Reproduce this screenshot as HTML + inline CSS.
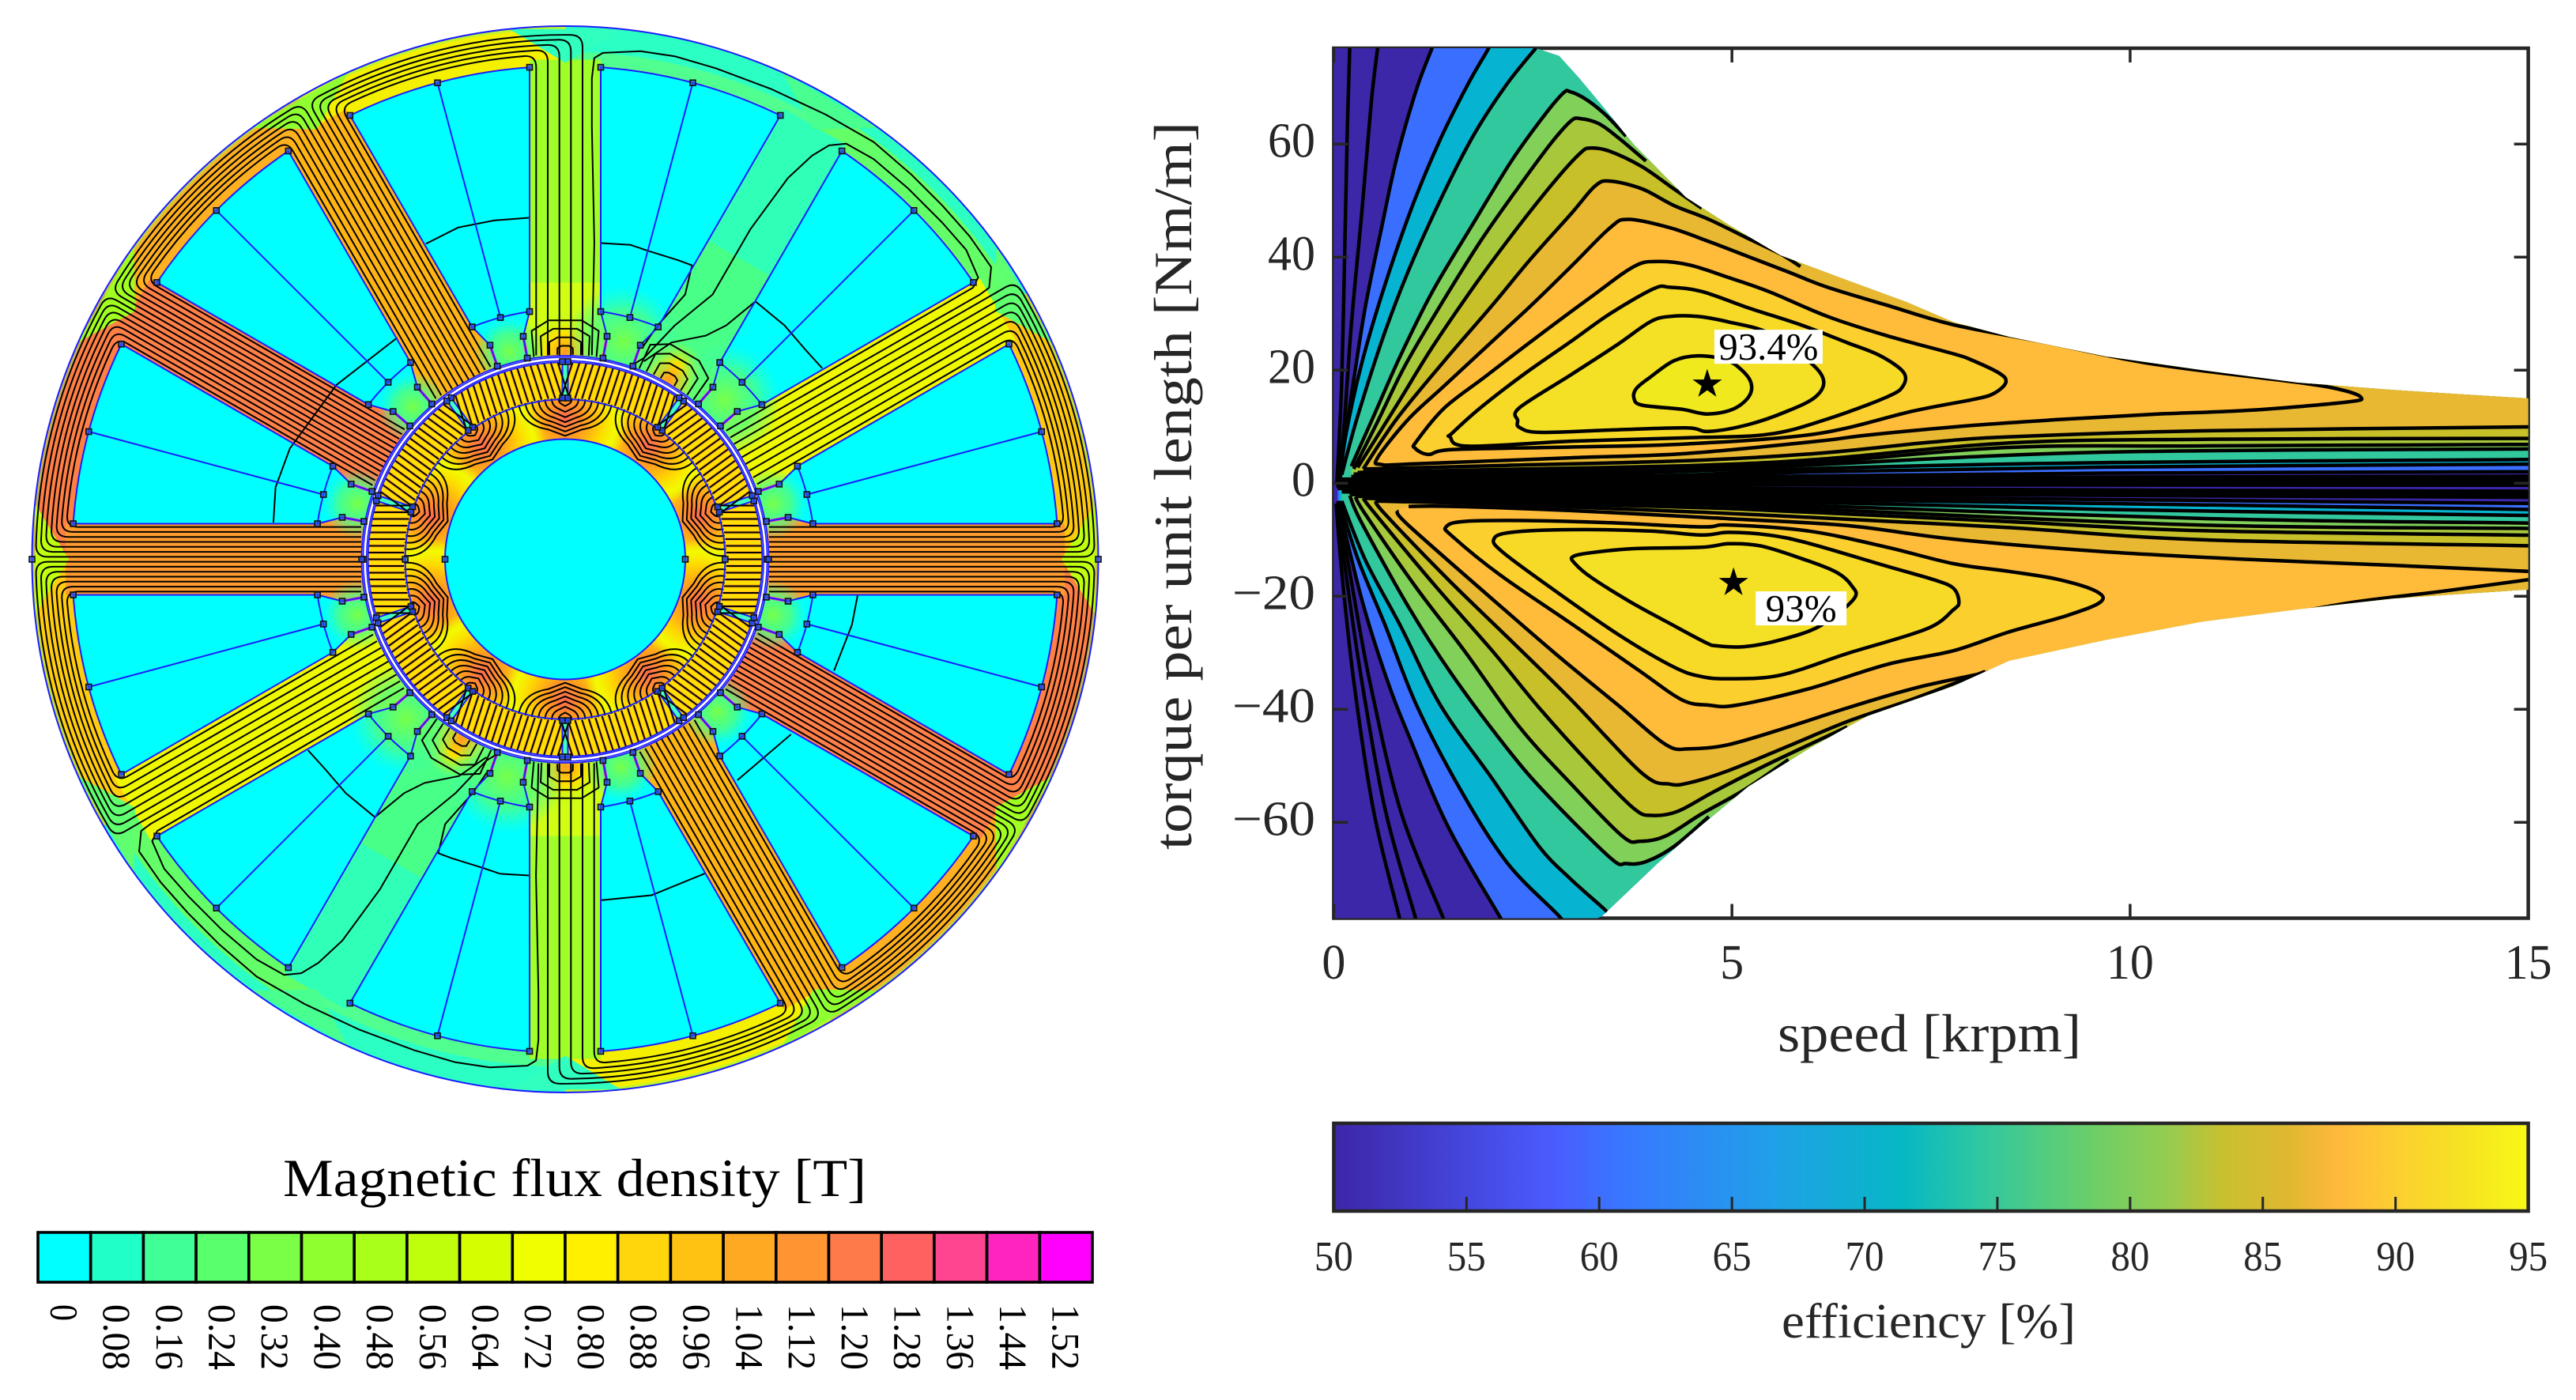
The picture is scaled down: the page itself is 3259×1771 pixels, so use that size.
<!DOCTYPE html>
<html lang="en">
<head>
<meta charset="utf-8">
<title>Magnetic flux density and efficiency map</title>
<style>
html,body{margin:0;padding:0;background:#fff;}
svg{display:block;font-family:"Liberation Serif",serif;}
</style>
</head>
<body>
<svg id="fig" xmlns="http://www.w3.org/2000/svg" width="3259" height="1771" viewBox="0 0 3259 1771">
<defs>
  <clipPath id="envClip"><path id="envPath"/></clipPath>
  <clipPath id="plotClip"><rect x="1687.4" y="61" width="1511.2" height="1100.5"/></clipPath>
  <clipPath id="ironClip"><circle cx="715" cy="707.5" r="203"/></clipPath>
  <radialGradient id="rotorBlob">
    <stop offset="0" stop-color="#ff6a50"/><stop offset=".3" stop-color="#ff9a20"/>
    <stop offset=".6" stop-color="#ffd800"/><stop offset=".82" stop-color="#f0ff00" stop-opacity=".9"/><stop offset="1" stop-color="#e8ff00" stop-opacity="0"/>
  </radialGradient>
  <radialGradient id="slotHalo">
    <stop offset="0" stop-color="#78ff48"/><stop offset=".55" stop-color="#50ff80" stop-opacity=".8"/>
    <stop offset="1" stop-color="#30ffc0" stop-opacity="0"/>
  </radialGradient>
  <radialGradient id="toothTip">
    <stop offset="0" stop-color="#ff9a20"/><stop offset=".45" stop-color="#ffe000"/>
    <stop offset="1" stop-color="#b0ff20" stop-opacity="0"/>
  </radialGradient>
  <linearGradient id="effGradient" x1="0" x2="1" y1="0" y2="0">
    <stop offset="0" stop-color="#3d26a8"/><stop offset=".184" stop-color="#4a5cff"/>
    <stop offset=".244" stop-color="#3878ff"/><stop offset=".367" stop-color="#20a0e8"/>
    <stop offset=".476" stop-color="#06b8c4"/><stop offset=".542" stop-color="#30c8a0"/>
    <stop offset=".636" stop-color="#6ccf68"/><stop offset=".698" stop-color="#96cc50"/>
    <stop offset=".744" stop-color="#c8c030"/><stop offset=".8" stop-color="#e0b830"/>
    <stop offset=".84" stop-color="#ffb83c"/><stop offset=".889" stop-color="#fccf30"/>
    <stop offset=".94" stop-color="#f6e024"/><stop offset="1" stop-color="#f8f815"/>
  </linearGradient>
</defs>

<g id="fluxPlot">
  <g id="stator"></g>
  <g id="rotor"></g>
  <g id="fluxLines" fill="none" stroke="#000" stroke-width="2" stroke-linejoin="round"></g>
  <g id="extraLines" fill="none" stroke="#000" stroke-width="2.2" transform="translate(715 707.5) scale(.9058 .8929) translate(-789.5 -792)">
    <polyline points="382,740 385,690 405,635 470,545 555,478"/>
    <polyline points="595,345 640,322 690,312 740,308"/>
    <polyline points="1198,843 1190,885 1165,950"/>
    <polyline points="1105,1040 1030,1105"/>
    <polyline points="985,1237 910,1268 840,1275"/>
  </g>
  <g id="blueGeom" fill="none" stroke="#1c1cff" stroke-width="2"></g>
  <g id="nodes" fill="#2a50e8" fill-opacity=".75" stroke="#111" stroke-width="1.6"></g>
</g>

<text x="358" y="1513" font-size="68" fill="#000" textLength="738" lengthAdjust="spacingAndGlyphs">Magnetic flux density [T]</text>
<g id="fluxLegend"></g>

<g id="effPlot">
  <g id="effFrame"></g>
  <g id="effFills" clip-path="url(#plotClip)"></g>
  <g id="effLines" clip-path="url(#envClip)" fill="none" stroke="#000" stroke-width="4.5" stroke-linejoin="round"></g>
  <g id="effAxes"></g>
  <g id="effMarks"></g>
</g>
<text transform="translate(1507 1075) rotate(-90)" font-size="68" fill="#262626" textLength="921" lengthAdjust="spacingAndGlyphs">torque per unit length [Nm/m]</text>
<text x="2249" y="1330" font-size="68" fill="#262626" textLength="384" lengthAdjust="spacingAndGlyphs">speed [krpm]</text>

<g id="effBar"></g>
<text x="2254" y="1692" font-size="62" fill="#262626" textLength="372" lengthAdjust="spacingAndGlyphs">efficiency [%]</text>
</svg>

<script>
/* ---------- efficiency chart data: [speed krpm, torque Nm/m] ---------- */
const xTicks = [0, 5, 10, 15];
const yTicks = [-60, -40, -20, 0, 20, 40, 60];
const barTicks = [50, 55, 60, 65, 70, 75, 80, 85, 90, 95];
const peakSpeed = [4.69, 5.02];
const peakTorque = [17.5, -17.6];
const peakText = ['93.4%', '93%'];

const levelNames = [20, 30, 40, 50, 60, 70, 75, 80, 82, 84, 86, 88, 90, 91, 92, 93];
const levelColors = ['#3c27a8','#3c27a8','#3c27a8','#3c27a8','#3a6eff','#06b4d2','#32c89e','#80d05a','#a8c83c','#c8c028','#e8b832','#ffbc3a','#fbcf2e','#f6da26','#f4e024','#efe91e'];

const envelopeTop = [[2.53,77],[2.83,75.6],[3.08,71.7],[3.37,66.8],[3.77,59.9],[4.42,50.6],[4.96,45.7],[5.61,40.3],[6.45,35.9],[7.2,32],[7.78,28.5],[8.48,25.9],[9.7,22.4],[10.9,20],[12.1,17.8],[13.3,16.5],[15,15]];
const envelopeBottom = [[15,-18.8],[13.3,-20.4],[12.1,-22.3],[10.9,-24.5],[9.7,-27.7],[8.48,-31.4],[7.78,-35.9],[6.7,-41.2],[5.96,-47],[5.2,-53.7],[4.62,-60.5],[4.07,-67.2],[3.37,-76.6],[3.3,-77]];

const top93Loop = [[4.57,22.54],[4.27,21.66],[3.97,18.72],[3.8,16.76],[3.77,15.04],[3.87,13.81],[4.37,13.08],[4.69,12.24],[5.01,13.08],[5.21,15.28],[5.24,17.74],[5.11,20.19],[4.91,21.9]];
const top92Loop = [[2.31,11.1],[2.33,13.32],[2.98,19.2],[3.57,24.6],[3.97,28.53],[4.22,29.51],[4.57,29.51],[4.96,28.53],[5.46,26.57],[5.96,21.66],[6.15,18.23],[6.05,15.28],[5.71,12.83],[5.21,10.38],[4.71,9.15],[4.42,9.79],[3.47,9.4],[2.58,9],[2.33,9.9]];
const top91Loop = [[1.46,8.17],[1.49,8.9],[1.84,13.32],[2.38,19.2],[2.98,25.1],[3.47,30],[4.02,34.42],[4.22,34.66],[4.62,33.93],[5.21,31],[5.86,28.04],[6.45,24.85],[6.85,22.64],[7.15,19.7],[7.15,17.25],[6.95,15.28],[6.2,11.36],[5.46,8.66],[4.42,8.02],[2.98,7.43],[1.69,6.55]];
const top90Loop = [[1.02,6.2],[1.04,7.43],[1.39,13.32],[1.89,18.72],[2.48,25.1],[3.23,32.95],[3.77,38.34],[4.07,39.23],[4.47,38.59],[4.96,36.38],[5.46,33.93],[6.2,29.5],[6.95,26.08],[7.78,22.9],[8,21.85],[8.36,19.44],[8.44,17.84],[8.3,15.96],[8.06,14.9],[7.27,12.75],[6.06,8.74],[4.42,6.94],[2.98,6.4],[1.5,5.96],[1.19,5.08]];
const top88Loop = [[.55,4.5],[.94,11.36],[1.39,17.25],[1.99,25.1],[2.48,31.47],[2.98,38.34],[3.47,45.2],[3.7,46.68],[4.22,45.2],[4.71,42.76],[5.21,40.06],[5.71,37.36],[6.2,34.66],[6.95,31.47],[7.78,28.04],[8.97,24.8],[10.3,21.05],[12.1,17.84],[12.66,16.5],[12.9,15.16],[12.72,14.36],[11.51,12.91],[10.3,12.2],[9.09,11.25],[7.88,10.07],[6.67,8.47],[6.06,7.4],[4.42,5.25],[2.98,4.5],[.99,3.4],[.6,3.3]];

const top86Rise = [[.37,2.53],[.79,11.36],[1.39,21.66],[1.99,31.47],[2.48,39.8],[2.98,47.66],[3.28,52.57],[3.47,53.45],[3.87,52.08],[4.27,49.14],[4.71,46.68],[5.21,43.25],[5.61,40.55],[5.86,38.34]];
const top86Fall = [[15,9.97],[10.9,9.27],[8.48,8.2],[7.45,7.2],[6.06,5.26],[4.4,3.96],[1.97,3.09],[.37,2.5]];
const top84Rise = [[.3,2.77],[.79,13.8],[1.24,24.1],[1.79,35.4],[2.28,44.7],[2.78,53.55],[3.1,58.46],[3.23,59.29],[3.47,58.7],[3.87,56],[4.27,52.08],[4.62,48.65]];
const top84Fall = [[15,7.93],[10.9,7.77],[8.48,7.13],[6.06,4.2],[4.4,3.09],[1.97,2.4],[.3,1.9]];
const top82Rise = [[.25,2.53],[.55,10.87],[.89,20.68],[1.34,31.47],[1.84,42.76],[2.33,52.57],[2.73,60.17],[2.98,64.1],[3.1,64.5],[3.33,63.6],[3.57,61.16],[3.92,56.99]];
const top82Fall = [[15,6.86],[10.9,6.6],[8.48,6.33],[6.06,3.65],[4.4,2.5],[1.97,1.9],[.25,1.6]];
const top80Rise = [[.22,3],[.5,11.85],[.84,22.64],[1.24,33.93],[1.74,45.7],[2.23,56.99],[2.63,64.83],[2.88,69],[2.97,69.25],[3.18,67.8],[3.42,65.08],[3.67,61.4]];
const top80Fall = [[15,6.06],[9.7,5.5],[6.06,3.27],[4.4,2.1],[1.97,1.5],[.22,1.2]];
const top75Rise = [[.1,1.5],[.3,11.85],[.65,27.06],[.99,39.32],[1.44,53.06],[1.79,62.38],[2.18,70.72],[2.53,76.85],[2.6,78]];
const top75Fall = [[15,4.19],[9.7,3.65],[6.06,2.6],[4.4,1.45],[1.97,1.1],[.1,.7]];
const top70Rise = [[.08,.7],[.15,8.4],[.35,21.17],[.65,35.4],[.99,49.14],[1.34,60.9],[1.69,70.72],[1.94,76.85],[1.98,78.5]];
const top70Fall = [[15,3.38],[9.7,2.85],[6.06,2.04],[4.4,1],[1.97,.85],[.08,.4]];
const top60Rise = [[.06,.4],[.12,5.96],[.25,18.2],[.4,31.47],[.6,45.2],[.79,57.5],[1.04,69.74],[1.23,76.85],[1.27,78.5]];
const top60Fall = [[15,2.04],[9.7,1.78],[6.06,1.3],[4.4,.7],[1.97,.55],[.06,.2]];
const top50Rise = [[.05,.2],[.12,8.4],[.22,28],[.35,47.66],[.47,67.3],[.55,76.85],[.57,78.5]];
const top50Fall = [[15,1.24],[6.06,.9],[1.97,.4],[.05,.1]];
const top40Rise = [[.04,.1],[.1,18.2],[.14,42.76],[.17,62.4],[.2,76.85],[.2,78.5]];
const top40Fall = [[15,.7],[6.06,.5],[1.97,.25],[.04,.05]];
const top30Fall = [[15,.17],[6.06,.05],[1.97,.1],[.08,0]];
const mid20Fall = [[15,-.36],[6.06,-.3],[1.97,-.2],[.08,-.1]];

const bot92Loop = [[3,-13.02],[3.03,-14.23],[3.23,-16.64],[3.72,-20.97],[4.22,-24.82],[4.67,-28.19],[4.81,-28.77],[5.16,-28.92],[5.61,-27.71],[6.1,-25.3],[6.53,-20.49],[6.5,-18.08],[6.3,-15.67],[5.86,-13.26],[5.36,-11.1],[4.96,-10.71],[4.62,-11.34],[3.77,-11.58],[3.23,-12.3]];
const bot91Loop = [[2.01,-9.89],[2.13,-12.3],[2.78,-19.04],[3.57,-26.75],[4.27,-32.53],[4.62,-34.21],[4.96,-34.6],[5.61,-33.97],[6.45,-30.12],[7.44,-25.8],[7.78,-22.4],[7.85,-21],[7.78,-18.56],[7.54,-17.1],[6.95,-14.71],[5.96,-10.62],[5.46,-9.17],[4.96,-8.69],[4.62,-9.17],[3.97,-8.45],[2.98,-8.21],[2.23,-8.69]];
const bot90Loop = [[1.41,-7.73],[1.49,-9.41],[2.08,-16.15],[2.98,-24.82],[3.82,-33.01],[4.37,-38.31],[4.71,-39.27],[5.06,-39.27],[5.96,-36.38],[6.95,-32.05],[7.78,-29.64],[8.48,-26.3],[9.21,-23.4],[9.63,-21],[9.57,-19.1],[9.09,-17],[8.48,-15.6],[7.78,-14.23],[6.95,-11.34],[5.96,-8.45],[4.96,-7.39],[4.62,-7.73],[3.47,-7],[2.48,-6.62],[1.64,-6.76]];
const bot88Rise = [[.79,-4.84],[.94,-7.48],[1.99,-20.49],[2.78,-30.12],[3.57,-39.27],[4.17,-46.25],[4.47,-46.98],[4.96,-46.25],[5.71,-43.12],[6.45,-39.75],[7.2,-36.62],[7.78,-34.7],[9.09,-30.9],[10.3,-27.4],[11.51,-24.45],[12.72,-21.24],[13.93,-19.1],[15,-17.07]];
const bot88Fall = [[15,-15.6],[13.33,-14.55],[11.51,-13.5],[9.7,-12.14],[7.78,-9.9],[6.45,-7.5],[4.96,-6.28],[4.62,-6.04],[2.98,-4.84],[1.49,-4.1],[.94,-4.1]];
const bot86Rise = [[.52,-3.15],[.65,-5.56],[1.44,-17.1],[2.18,-27.23],[2.98,-38.3],[3.87,-51.3],[4.22,-53.24],[4.47,-52.99],[4.96,-50.83],[5.71,-46.5],[6.45,-42.16],[7.2,-38.55],[7.74,-35.7],[8.18,-33.3]];
const bot86Fall = [[15,-11.07],[10.9,-10],[8.48,-7.86],[6.06,-6.1],[4.56,-5.1],[1.97,-3.7],[.52,-3.15]];
const bot84Rise = [[.37,-2.67],[.5,-5.08],[1.24,-17.6],[1.99,-29.64],[2.58,-39.75],[3.23,-49.9],[3.77,-57.57],[4,-58.77],[4.32,-58.05],[4.76,-54.68],[5.36,-50.35],[5.86,-46.98],[6.45,-43.1]];
const bot84Fall = [[15,-9.2],[10.9,-8.4],[8.48,-6.8],[6.06,-5.2],[4.56,-4.3],[1.97,-3.3],[.37,-2.67]];
const bot82Rise = [[.27,-2.43],[.4,-5.56],[1.04,-18.56],[1.64,-29.64],[2.33,-43.1],[2.98,-53.2],[3.62,-62.4],[3.85,-63.35],[4.17,-62.4],[4.62,-58.5],[5.16,-54.2],[5.71,-48.9]];
const bot82Fall = [[15,-8],[10.9,-7.4],[6.06,-4.6],[4.56,-3.7],[1.97,-3],[.27,-2.3]];
const bot80Rise = [[.2,-2.19],[.35,-7],[.94,-21.93],[1.49,-33.97],[2.18,-46.98],[2.68,-55.16],[3.47,-66.24],[3.67,-67.3],[3.92,-66.96],[4.27,-64.3],[4.71,-59]];
const bot80Fall = [[15,-7.05],[10.9,-6.25],[6.06,-4],[4.56,-3.3],[1.97,-2.7],[.2,-2]];
const bot75Rise = [[.1,-3.15],[.4,-13.7],[.84,-25.3],[1.34,-39.3],[1.99,-52.3],[2.58,-64.3],[2.98,-70.1],[3.4,-75.4],[3.5,-77]];
const bot75Fall = [[15,-5.7],[9.7,-4.65],[6.06,-3.4],[4.56,-3],[1.97,-2.4],[.1,-1.5]];
const bot70Rise = [[.07,-3.15],[.3,-13.3],[.65,-25.3],[1.04,-39.3],[1.59,-54.2],[2.18,-67.2],[2.83,-76.6],[2.9,-78.5]];
const bot70Fall = [[15,-4.65],[9.7,-3.6],[6.06,-2.9],[4.56,-2.6],[1.97,-2.1],[.07,-.9]];
const bot60Rise = [[.05,-3.15],[.35,-20.5],[.65,-34],[.94,-44.6],[1.44,-60.9],[2.08,-76.6],[2.15,-78.5]];
const bot60Fall = [[15,-3.58],[9.7,-2.9],[6.06,-2.4],[1.97,-1.8],[.05,-.9]];
const bot50Rise = [[.05,-3.6],[.2,-15.7],[.45,-34.9],[.84,-58],[1.365,-76.6],[1.42,-78.5]];
const bot50Fall = [[15,-2.5],[6.06,-1.9],[1.97,-1.4],[.05,-.8]];
const bot40Rise = [[.04,-3.6],[.15,-15.7],[.35,-34.9],[.65,-58],[1.02,-76.6],[1.05,-78.5]];
const bot40Fall = [[15,-1.97],[6.06,-1.4],[1.97,-1],[.04,-.6]];
const bot30Rise = [[.03,-3.6],[.1,-15.7],[.25,-34.9],[.5,-58],[.82,-76.6],[.84,-78.5]];
const bot30Fall = [[15,-1.43],[6.06,-1],[1.97,-.6],[.03,-.4]];

/* ---------- flux legend data ---------- */
const fluxTickLabels = ['0','0.08','0.16','0.24','0.32','0.40','0.48','0.56','0.64','0.72','0.80','0.88','0.96','1.04','1.12','1.20','1.28','1.36','1.44','1.52'];
const fluxColors = ['#00ffff','#20ffc8','#40ff96','#5aff6e','#7aff46','#90ff30','#a9ff1a','#c0ff0c','#d5ff00','#f0ff00','#fff000','#ffd60c','#ffc212','#ffa822','#ff9432','#ff7a4a','#ff6060','#ff4490','#ff24c0','#ff00ff'];

const NS = 'http://www.w3.org/2000/svg';
function mk(tag, attrs, parent){
  const e = document.createElementNS(NS, tag);
  for (const k in attrs) e.setAttribute(k, attrs[k]);
  parent.appendChild(e);
  return e;
}
const $ = id => document.getElementById(id);

/* ---------- axis functions ---------- */
const PLOT_L = 1687.4, PLOT_R = 3198.6, PLOT_T = 61, PLOT_B = 1161.5;
const xS = s => PLOT_L + 100.75 * s;
const yT = t => 611.25 - 7.15 * t;
const BAR_L = 1687.4, BAR_R = 3198.6;
const xE = v => BAR_L + (v - 50) / 45 * (BAR_R - BAR_L);
const toPx = p => [xS(p[0]), yT(p[1])];
const f1 = n => n.toFixed(1);

function segs(pts, closed){
  const n = pts.length; let d = '';
  const last = closed ? n : n - 1;
  for (let i = 0; i < last; i++){
    const g = j => closed ? pts[(j + n) % n] : pts[Math.max(0, Math.min(n - 1, j))];
    const p0 = g(i-1), p1 = g(i), p2 = g(i+1), p3 = g(i+2);
    d += ` C${f1(p1[0]+(p2[0]-p0[0])/6)} ${f1(p1[1]+(p2[1]-p0[1])/6)} ${f1(p2[0]-(p3[0]-p1[0])/6)} ${f1(p2[1]-(p3[1]-p1[1])/6)} ${f1(p2[0])} ${f1(p2[1])}`;
  }
  return d;
}
const openPath = a => { const p = a.map(toPx); return `M${f1(p[0][0])} ${f1(p[0][1])}` + segs(p,false); };
const loopPath = a => { const p = a.map(toPx); return `M${f1(p[0][0])} ${f1(p[0][1])}` + segs(p,true) + 'Z'; };

/* ---------- efficiency chart ---------- */
(function(){
  const base = [[0,77]].concat(envelopeTop, envelopeBottom, [[0,-77]]);
  const envD = 'M' + base.map(p => { const q = toPx(p); return f1(q[0]) + ' ' + f1(q[1]); }).join(' L') + 'Z';
  $('envPath').setAttribute('d', envD);
  const frame = mk('rect', {x:PLOT_L,y:PLOT_T,width:PLOT_R-PLOT_L,height:PLOT_B-PLOT_T,fill:'none',stroke:'#262626','stroke-width':4.5}, $('effFrame'));
  
  
  const fills = mk('g', {'clip-path':'url(#envClip)'}, $('effFills'));
  const basePath = mk('path', {d: envD, fill: levelColors[0]}, fills);
  
  

  const table = [
    [60,top60Rise,top60Fall,1],[60,bot60Rise,bot60Fall,-1],
    [70,top70Rise,top70Fall,1],[70,bot70Rise,bot70Fall,-1],
    [75,top75Rise,top75Fall,1],[75,bot75Rise,bot75Fall,-1],
    [80,top80Rise,top80Fall,1],[80,bot80Rise,bot80Fall,-1],
    [82,top82Rise,top82Fall,1],[82,bot82Rise,bot82Fall,-1],
    [84,top84Rise,top84Fall,1],[84,bot84Rise,bot84Fall,-1],
    [86,top86Rise,top86Fall,1],[86,bot86Rise,bot86Fall,-1],
    [88,top88Loop,null,1],[88,bot88Rise,bot88Fall,-1],
    [90,top90Loop,null,1],[90,bot90Loop,null,-1],
    [91,top91Loop,null,1],[91,bot91Loop,null,-1],
    [92,top92Loop,null,1],[92,bot92Loop,null,-1],
    [93,top93Loop,null,1]
  ];
  const colorOf = l => levelColors[levelNames.indexOf(l)];
  table.forEach(row => {
    const [lvl, rise, fall, sign] = row;
    let d;
    if (!fall) d = loopPath(rise);
    else {
      const r = rise.map(toPx), q = fall.map(toPx);
      const e1 = toPx([16, sign*90]), e2 = toPx([16, fall[0][1]]);
      d = `M${f1(r[0][0])} ${f1(r[0][1])}` + segs(r,false) +
          ` L${f1(e1[0])} ${f1(e1[1])} L${f1(e2[0])} ${f1(e2[1])} L${f1(q[0][0])} ${f1(q[0][1])}` + segs(q,false) + 'Z';
    }
    const f = mk('path', {d: d, fill: colorOf(lvl)}, fills);
    
    
  });
  const lineSets = [top40Rise,top40Fall,top30Fall,mid20Fall,top50Rise,top50Fall,bot50Rise,bot50Fall,bot40Rise,bot40Fall,bot30Rise,bot30Fall];
  table.forEach(r => { lineSets.push(r[1]); if (r[2]) lineSets.push(r[2]); });
  const loops = [top93Loop,top92Loop,top91Loop,top90Loop,top88Loop,bot92Loop,bot91Loop,bot90Loop];
  lineSets.forEach(a => {
    const l = mk('path', {d: loops.includes(a) ? loopPath(a) : openPath(a)}, $('effLines'));
    
    
  });

  /* axes */
  const ax = $('effAxes');
  xTicks.forEach(v => {
    const x = xS(v);
    const t1 = mk('line', {x1:x,x2:x,y1:PLOT_B,y2:PLOT_B-18,stroke:'#262626','stroke-width':3.5}, ax);
    
    
    const t2 = mk('line', {x1:x,x2:x,y1:PLOT_T,y2:PLOT_T+18,stroke:'#262626','stroke-width':3.5}, ax);
    
    
    const s = String(v);
    const lab = mk('text', {x:x,y:1238,'font-size':62,fill:'#262626','text-anchor':'middle',textLength:s.length*30,lengthAdjust:'spacingAndGlyphs'}, ax);
    lab.textContent = s;
    
    
  });
  yTicks.forEach(v => {
    const y = yT(v);
    const t1 = mk('line', {x1:PLOT_L,x2:PLOT_L+18,y1:y,y2:y,stroke:'#262626','stroke-width':3.5}, ax);
    
    
    const t2 = mk('line', {x1:PLOT_R,x2:PLOT_R-18,y1:y,y2:y,stroke:'#262626','stroke-width':3.5}, ax);
    
    
    const s = (v < 0 ? '\u2212' : '') + Math.abs(v);
    const w = String(Math.abs(v)).length * 30 + (v < 0 ? 45 : 0);
    const lab = mk('text', {x:1664,y:y+16,'font-size':62,fill:'#262626','text-anchor':'end',textLength:w,lengthAdjust:'spacingAndGlyphs'}, ax);
    lab.textContent = s;
    
    
  });

  /* peaks */
  peakSpeed.forEach((s, i) => {
    const cx = xS(s), cy = yT(peakTorque[i]);
    let pts = '';
    for (let k = 0; k < 10; k++){
      const r = k % 2 ? 7.5 : 19.5, a = -Math.PI/2 + k*Math.PI/5;
      pts += f1(cx + r*Math.cos(a)) + ',' + f1(cy + r*Math.sin(a)) + ' ';
    }
    const star = mk('polygon', {points: pts, fill:'#000'}, $('effMarks'));
    
    
    const b = i === 0 ? {dx:9,dy:-69,w:137,h:43,tw:126} : {dx:28,dy:11,w:115,h:43,tw:90};
    const box = mk('rect', {x:cx+b.dx,y:cy+b.dy,width:b.w,height:b.h,fill:'#fff'}, $('effMarks'));
    
    
    const txt = mk('text', {x:cx+b.dx+b.w/2,y:cy+b.dy+38,'font-size':49,fill:'#000','text-anchor':'middle',textLength:b.tw,lengthAdjust:'spacingAndGlyphs'}, $('effMarks'));
    txt.textContent = peakText[i];
    
    
  });

  /* colorbar */
  const bar = $('effBar');
  const r = mk('rect', {x:BAR_L,y:1421,width:BAR_R-BAR_L,height:111,fill:'url(#effGradient)',stroke:'#262626','stroke-width':4.5}, bar);
  
  
  barTicks.forEach(v => {
    const x = xE(v);
    const t = mk('line', {x1:x,x2:x,y1:1514,y2:1532,stroke:'#262626','stroke-width':3}, bar);
    
    
    const lab = mk('text', {x:x,y:1607,'font-size':53,fill:'#262626','text-anchor':'middle',textLength:49,lengthAdjust:'spacingAndGlyphs'}, bar);
    lab.textContent = String(v);
    
    
  });
})();

/* ---------- flux legend ---------- */
(function(){
  const g = $('fluxLegend');
  const L = 48, W = (1382 - 48) / 20;
  fluxColors.forEach((c, i) => {
    const r = mk('rect', {x:L+i*W,y:1559,width:W,height:63,fill:c,stroke:'#000','stroke-width':3.6}, g);
    
    
    const s = fluxTickLabels[i];
    const t = mk('text', {transform:`translate(${f1(L+(i+.5)*W-17)} 1650) rotate(90)`,'font-size':50,fill:'#000',textLength:s.length>1?83:21,lengthAdjust:'spacingAndGlyphs'}, g);
    t.textContent = s;
    
    
  });
})();

/* ---------- flux density field illustration ---------- */
(function(){
  const CX = 715, CY = 707.5, R = 674.5, D = Math.PI/180;
  const pol = (r,a) => [CX + r*Math.cos(a*D), CY - r*Math.sin(a*D)];
  const sp = (a,r,d) => [CX + r*Math.cos(a*D) - d*Math.sin(a*D), CY - r*Math.sin(a*D) - d*Math.cos(a*D)];
  const P = p => f1(p[0]) + ' ' + f1(p[1]);
  const ringColors = ['#ffc810','#64ff68','#2cffc4','#f4f000','#ffb020','#ff7f45','#ffcc10','#64ff68','#2cffc4','#f4f000','#ffb020','#ff7f45'];
  const spokeColors = ['#ff9c30','#f0f800','#30ffb8','#a0ff28','#ffb414','#ff7f48','#ff9c30','#f0f800','#30ffb8','#a0ff28','#ffb414','#ff7f48'];
  const wedgeColors = ['#c0ff10','#60ff70','#48ff90','#30ffc0','#90ff30','#a0ff20','#c0ff10','#60ff70','#48ff90','#30ffc0','#90ff30','#a0ff20'];
  const ringLines = [7,0,0,5,6,7,7,0,0,5,6,7];
  const extraSpoke = [0,2,0,1,0,0,0,2,0,1,0,0];
  const st = $('stator'), ro = $('rotor'), fl = $('fluxLines'), bl = $('blueGeom'), nd = $('nodes');

  const disk = mk('circle', {cx:CX,cy:CY,r:R,fill:'#60ff70'}, st);
  
  
  const sector = (r1,r2,a1,a2) => `M${P(pol(r2,a1))} A${r2} ${r2} 0 0 0 ${P(pol(r2,a2))} L${P(pol(r1,a2))} A${r1} ${r1} 0 0 1 ${P(pol(r1,a1))}Z`;
  for (let i = 0; i < 12; i++){
    const a = i*30;
    const s = mk('path', {d:sector(610,R,a,a+30),fill:ringColors[i]}, st);
    
    
  }
  const fringe = mk('circle', {cx:CX,cy:CY,r:R-2,fill:'none',stroke:'#70ff70','stroke-width':4,'stroke-opacity':.4}, st);
  
  
  [1,2,7,8].forEach(i => {
    const a = i*30;
    const s = mk('path', {d:sector(R-15,R,a,a+30),fill:'#2cffc4'}, st);
    
    
  });
  [2,8].forEach(i => {
    const a = i*30;
    const s = mk('path', {d:sector(620,642,a,a+30),fill:'#50ff90'}, st);
    
    
  });
  for (let i = 0; i < 12; i++){
    const a = i*30;
    const body = [sp(a,258,-45),sp(a,632,-45),sp(a,632,45),sp(a,258,45)];
    const spk = mk('polygon', {points:body.map(p=>p.map(f1).join(',')).join(' '),fill:spokeColors[i]}, st);
    
    
    const shoe = [pol(259,a-10.65),pol(287,a-10.65),sp(a,313,-45),sp(a,313,45),pol(287,a+10.65),pol(259,a+10.65)];
    const sh = mk('polygon', {points:shoe.map(p=>p.map(f1).join(',')).join(' '),fill:spokeColors[i]}, st);
    
    
    const wedge = [sp(a,628,0),pol(R,a-6),pol(R,a+6)];
    const w = mk('polygon', {points:wedge.map(p=>p.map(f1).join(',')).join(' '),fill:wedgeColors[i]}, st);
    
    
    if (i % 6 === 2 || i % 6 === 3){
      const low = [sp(a,258,-54),sp(a,i%6===2?440:350,-45),sp(a,i%6===2?440:350,45),sp(a,258,54)];
      const lw = mk('polygon', {points:low.map(p=>p.map(f1).join(',')).join(' '),fill:i%6===2?'#48ff88':'#d0ff14'}, st);
      
      
      const c = pol(262,a);
      const tip = mk('circle', {cx:c[0],cy:c[1],r:52,fill:'url(#toothTip)'}, st);
      
      
    }
  }
  const rc = (r,d) => Math.sqrt(r*r - d*d);
  for (let i = 0; i < 12; i++){
    const a = i*30, b = a+30, m = a+15;
    const e1o = sp(a,rc(624,45),45), e2o = sp(b,rc(624,45),-45);
    const e1i = sp(a,rc(316.6,45),45), e2i = sp(b,rc(316.6,45),-45);
    const outline = `M${P(e1o)} A624 624 0 0 0 ${P(e2o)} L${P(e2i)} A316.6 316.6 0 0 1 ${P(e1i)}Z`;
    const slot = mk('path', {d:outline,fill:'#00ffff'}, st);
    
    
    const a1 = pol(287,m-4.35), a2 = pol(259,m-4.35), a3 = pol(259,m+4.35), a4 = pol(287,m+4.35);
    const pocket = `M${P(e1i)} L${P(a1)} L${P(a2)} L${P(a3)} L${P(a4)} L${P(e2i)} A316.6 316.6 0 0 1 ${P(e1i)}Z`;
    const pk = mk('path', {d:pocket,fill:'#00ffff'}, st);
    
    
    const lowFlux = (i % 6 === 1 || i % 6 === 2);
    const hc = pol(lowFlux ? 285 : 272,m);
    const halo = mk('circle', {cx:hc[0],cy:hc[1],r:lowFlux ? 72 : 44,fill:'url(#slotHalo)'}, st);
    
    

    const mg = mk('path', {d:`M${P(a1)} L${P(a2)} M${P(a3)} L${P(a4)}`,fill:'none',stroke:'#ff20c0','stroke-width':3.5}, st);
    
    

    const o1 = mk('path', {d:outline}, bl);
    
    
    const o2 = mk('path', {d:`M${P(e1i)} L${P(a1)} L${P(a2)} M${P(a3)} L${P(a4)} L${P(e2i)}`}, bl);
    
    
    const mi = pol(316.6,m), mo = pol(624,m);
    const o3 = mk('path', {d:`M${P(mi)} L${P(mo)}`}, bl);
    
    
    [e1o,e2o,e1i,e2i,a1,a2,a3,a4,mi,mo].forEach(p => {
      const n = mk('rect', {x:p[0]-3.5,y:p[1]-3.5,width:7,height:7}, nd);
      
      
    });
  }

  /* stator flux lines */
  const spokeCount = i => ringLines[(i+11)%12] + ringLines[i] + extraSpoke[i];
  for (let i = 0; i < 12; i++){
    const a = i*30, b = a+30, n = ringLines[i], j = (i+1)%12;
    if (!n) continue;
    const sa = 88/spokeCount(i), sb = 88/spokeCount(j), tr = 6.2;
    for (let k = 0; k < n; k++){
      const r = 651 - (n-1)*tr/2 + k*tr;
      const dA = 44 - (k+.5)*sa, dB = -(44 - (k+.5)*sb);
      const ra = rc(r,dA), rb = rc(r,dB), ch = 15;
      const angA = a + Math.atan2(dA,ra)/D, angB = b + Math.atan2(dB,rb)/D;
      const d = `M${P(sp(a,258,dA))} L${P(sp(a,ra-ch,dA))} Q${P(sp(a,ra,dA))} ${P(pol(r,angA+ch/r/D))} A${f1(r)} ${f1(r)} 0 0 0 ${P(pol(r,angB-ch/r/D))} Q${P(sp(b,rb,dB))} ${P(sp(b,rb-ch,dB))} L${P(sp(b,258,dB))}`;
      const l = mk('path', {d:d}, fl);
      
      
    }
  }
  /* low-flux quadrant lines, drawn twice with point symmetry */
  const tr3 = q => [715 + q[0]/2.306, 30 + q[1]/2.306];
  const rot = p => [2*CX - p[0], 2*CY - p[1]];
  const line1 = [[78,967],[85,640],[78,300],[78,160],[85,100],[110,85],[220,80],[320,95],[440,130],[600,190],[760,265],[900,345],[1010,440],[1100,530],[1180,620],[1243,710],[1237,770],[1210,790]].map(tr3).concat([sp(30,258,29)]);
  const line2 = [[205,990],[230,975],[320,880],[430,790],[540,600],[650,450],[720,385],[770,355],[820,350],[900,395],[1000,480],[1100,580],[1170,660],[1205,740],[1190,770]].map(tr3).concat([sp(30,258,39)]);
  const line3 = [[105,640],[190,645],[240,662],[330,690],[370,705],[350,790],[270,880],[225,945]].map(tr3);
  const line4 = [[750,1005],[700,950],[640,880],[555,810],[470,880],[410,910],[310,930],[230,985]].map(tr3);
  [line1,line2,line3,line4].forEach(q => {
    [q, q.map(rot)].forEach(v => {
      const l = mk('polyline', {points:v.map(p=>p.map(f1).join(',')).join(' ')}, fl);
      
      
    });
  });
  /* nested leakage loops on the low-flux teeth */
  [60,90,240,270].forEach(a => {
    for (let k = 1; k <= 4; k++){
      const dl = 2.2*k, h = 11*k;
      const d = `M${P(pol(259,a+dl))} L${P(pol(259+h*.75,a+dl*.95))} L${P(pol(259+h,a+dl*.45))} L${P(pol(259+h,a-dl*.45))} L${P(pol(259+h*.75,a-dl*.95))} L${P(pol(259,a-dl))}`;
      const l = mk('path', {d:d}, fl);
      
      
    }
  });

  /* rotor */
  const gap = mk('circle', {cx:CX,cy:CY,r:258,fill:'#fff'}, ro);
  
  
  const mag = mk('circle', {cx:CX,cy:CY,r:250,fill:'#ffe000'}, ro);
  
  
  for (let m = 0; m < 10; m++){
    const a = m*36;
    for (let d = -68; d <= 68; d += 8.5){
      const q1 = sp(a,rc(204,d),d), q2 = sp(a,rc(249,d),d);
      const stripe = mk('line', {x1:q1[0],y1:q1[1],x2:q2[0],y2:q2[1],stroke:'#ffb020','stroke-width':4}, ro);
      
      
      const l = mk('path', {d:`M${P(q1)} L${P(q2)}`}, fl);
      
      
    }
  }
  const iron = mk('circle', {cx:CX,cy:CY,r:203,fill:'#a8ff30'}, ro);
  
  
  const blobs = mk('g', {'clip-path':'url(#ironClip)'}, ro);
  for (let m = 0; m < 10; m++){
    const th = 18 + m*36;
    const c = pol(178,th);
    const bb = mk('circle', {cx:c[0],cy:c[1],r:80,fill:'url(#rotorBlob)'}, blobs);
    
    
  }
  for (let m = 0; m < 10; m++){
    const th = 18 + m*36;
    const q = [sp(th,204,-3.5),sp(th,250,-3.5),sp(th,250,3.5),sp(th,204,3.5)];
    const sl = mk('polygon', {points:q.map(p=>p.map(f1).join(',')).join(' '),fill:'#40ffc0',stroke:'#1c1cff','stroke-width':2}, ro);
    
    
    for (let k = 1; k <= 7; k++){
      const dl = k*8.5/204/D;
      const depth = 50*Math.pow(k/7.4,.8), ap = 204 - depth;
      const d = `M${P(pol(204,th+dl))} Q${P(pol(204-depth*.55,th+dl*1.05))} ${P(pol(ap+depth*.2,th+dl*.45))} L${P(pol(ap,th))} L${P(pol(ap+depth*.2,th-dl*.45))} Q${P(pol(204-depth*.55,th-dl*1.05))} ${P(pol(204,th-dl))}`;
      const l = mk('path', {d:d}, fl);
      
      
    }
    [sp(th,204,-3.5),sp(th,204,3.5),sp(th,250,-3.5),sp(th,250,3.5)].forEach(p => {
      const n = mk('rect', {x:p[0]-3.5,y:p[1]-3.5,width:7,height:7}, nd);
      
      
    });
  }
  const hole = mk('circle', {cx:CX,cy:CY,r:152,fill:'#00ffff'}, ro);
  
  

  /* blue rings */
  [[R,2],[257.5,1.8],[255.4,1.8],[251.4,1.8],[249.4,1.8],[202.4,2],[152,2]].forEach(v => {
    const c = mk('circle', {cx:CX,cy:CY,r:v[0],'stroke-width':v[1]}, bl);
    
    
  });
  const w = mk('circle', {cx:CX,cy:CY,r:253.4,stroke:'#fff','stroke-width':2.6}, bl);
  
  
  [[R,0],[R,180],[152,0],[152,180],[202.4,0],[202.4,180],[255.4,0],[257.5,0],[255.4,180],[257.5,180]].forEach(v => {
    const p = pol(v[0],v[1]);
    const n = mk('rect', {x:p[0]-3.5,y:p[1]-3.5,width:7,height:7}, nd);
    
    
  });
})();
</script>
</body>
</html>
